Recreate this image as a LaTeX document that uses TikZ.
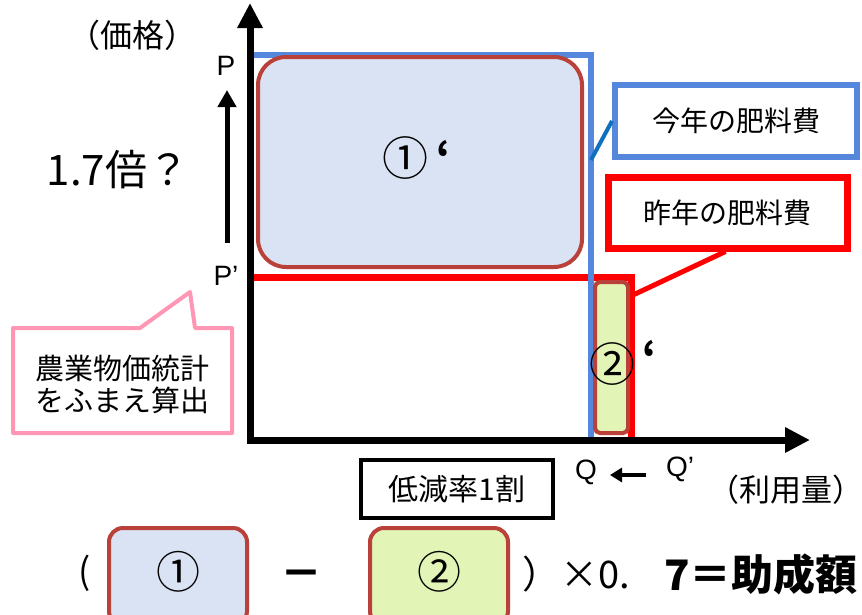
\documentclass[tikz,border=0pt]{standalone}
\usepackage{fontspec}
\setmainfont{Noto Sans CJK JP}
\newfontfamily\latinfont{Liberation Sans}
\usetikzlibrary{arrows.meta}
\definecolor{frameblue}{RGB}{85,135,220}
\definecolor{linkblue}{RGB}{16,112,192}
\definecolor{brn}{RGB}{185,65,58}
\definecolor{lblue}{RGB}{218,227,243}
\definecolor{lgreen}{RGB}{227,244,183}
\definecolor{pinkc}{RGB}{255,150,180}
\tikzset{
  fs/.style={font=\fontsize{#1}{#1}\selectfont},
  fsb/.style={font=\bfseries\fontsize{#1}{#1}\selectfont},
  lbl/.style={font=\latinfont\fontsize{28}{28}\selectfont, inner sep=0},
  txt/.style={inner sep=0},
  cbox/.style={draw=brn, line width=4pt, rounded corners=#1, inner sep=0},
  legendbox/.style={line width=6pt, fill=white, inner sep=0, minimum width=242pt, minimum height=72pt, font=\fontsize{28}{28}\selectfont},
}
\begin{document}
\begin{tikzpicture}[x=1pt,y=-1pt]
\clip (0,0) rectangle (862,614);
\fill[white] (0,0) rectangle (862,614);

% cost frames
\draw[red, line width=7pt] (250,277) -- (631,277) -- (631,440);
\draw[frameblue, line width=6pt] (250,440) -- (250,55) -- (591,55) -- (591,440);

% areas
\node[cbox=28pt, fill=lblue, minimum width=324pt, minimum height=210pt] (area1) at (420,162) {};
\node[cbox=5pt, fill=lgreen, minimum width=33pt, minimum height=151pt] (area2) at (611.5,357.5) {};
\node[txt, fs=46] (n1) at (405,158) {①};
\node[txt, fsb=40] (q1) at (444,156) {‘};
\node[txt, fs=46] (n2) at (612,364) {②};
\node[txt, fsb=40] (q2) at (650,356) {‘};

% axes
\coordinate (O) at (250,440);
\coordinate (ytip) at (250,3);
\coordinate (xtip) at (810,440);
\draw[line width=7pt, line join=miter, {Triangle[length=25pt,width=24pt]}-{Triangle[length=25pt,width=24pt]}] (ytip) -- (O) -- (xtip);

% axis labels
\node[txt, fs=32] (price) at (132,35) {（価格）};
\node[lbl] (P) at (226,66) {P};
\node[lbl] (Pp) at (226,276) {P’};
\coordinate (ar1) at (227,243);
\coordinate (ar2) at (227,90);
\draw[line width=5pt, -{Triangle[length=17pt,width=18pt]}] (ar1) -- (ar2);
\node[txt, fs=42] (ratio) at (118,170) {1.7倍？};

\node[lbl] (Q) at (586,472) {Q};
\node[lbl] (Qp) at (680,469) {Q’};
\coordinate (qa) at (646,475);
\coordinate (qb) at (610,475);
\draw[line width=4pt, -{Triangle[length=12pt,width=14pt]}] (qa) -- (qb);
\node[txt, fs=31] (use) at (786,490) {（利用量）};

% callout
\draw[pinkc, line width=4pt, line join=round] (13,328) -- (140,328) -- (190,292) -- (195,328) -- (232,328) -- (232,433) -- (13,433) -- cycle;
\node[txt, fs=29, align=center] (stat) at (122,384) {農業物価統計\\[3pt]をふまえ算出};

% legends
\node[legendbox, draw=frameblue] (thisyr) at (736,121) {今年の肥料費};
\coordinate (tb) at (591,160);
\draw[linkblue, line width=4pt] (tb) -- (thisyr.west);
\node[legendbox, draw=red, line width=7pt, minimum width=239pt, minimum height=71pt] (lastyr) at (727.5,212.5) {昨年の肥料費};
\coordinate (lr) at (633,295);
\draw[red, line width=5pt] (lr) -- ([xshift=-2pt]lastyr.south);

% reduction box
\node[draw, line width=4pt, inner sep=0, minimum width=192pt, minimum height=58pt, fs=30] (cut) at (457,489) {低減率1割};

% formula
\node[txt, fs=36] (lp) at (85,573) {(};
\node[cbox=14pt, fill=lblue, minimum width=138pt, minimum height=97pt] (b1) at (178,576.5) {};
\node[txt, fs=44] (f1) at (178,572) {①};
\node[txt, fsb=42] (minus) at (301,579) {－};
\node[cbox=14pt, fill=lgreen, minimum width=138pt, minimum height=97pt] (b2) at (439,576.5) {};
\node[txt, fs=44] (f2) at (439,572) {②};
\node[txt, fs=38, anchor=west] (rp) at (522,574) {）×0.};
\node[txt, fsb=42, anchor=east] (res) at (858,574) {7＝助成額};
\end{tikzpicture}
\end{document}
